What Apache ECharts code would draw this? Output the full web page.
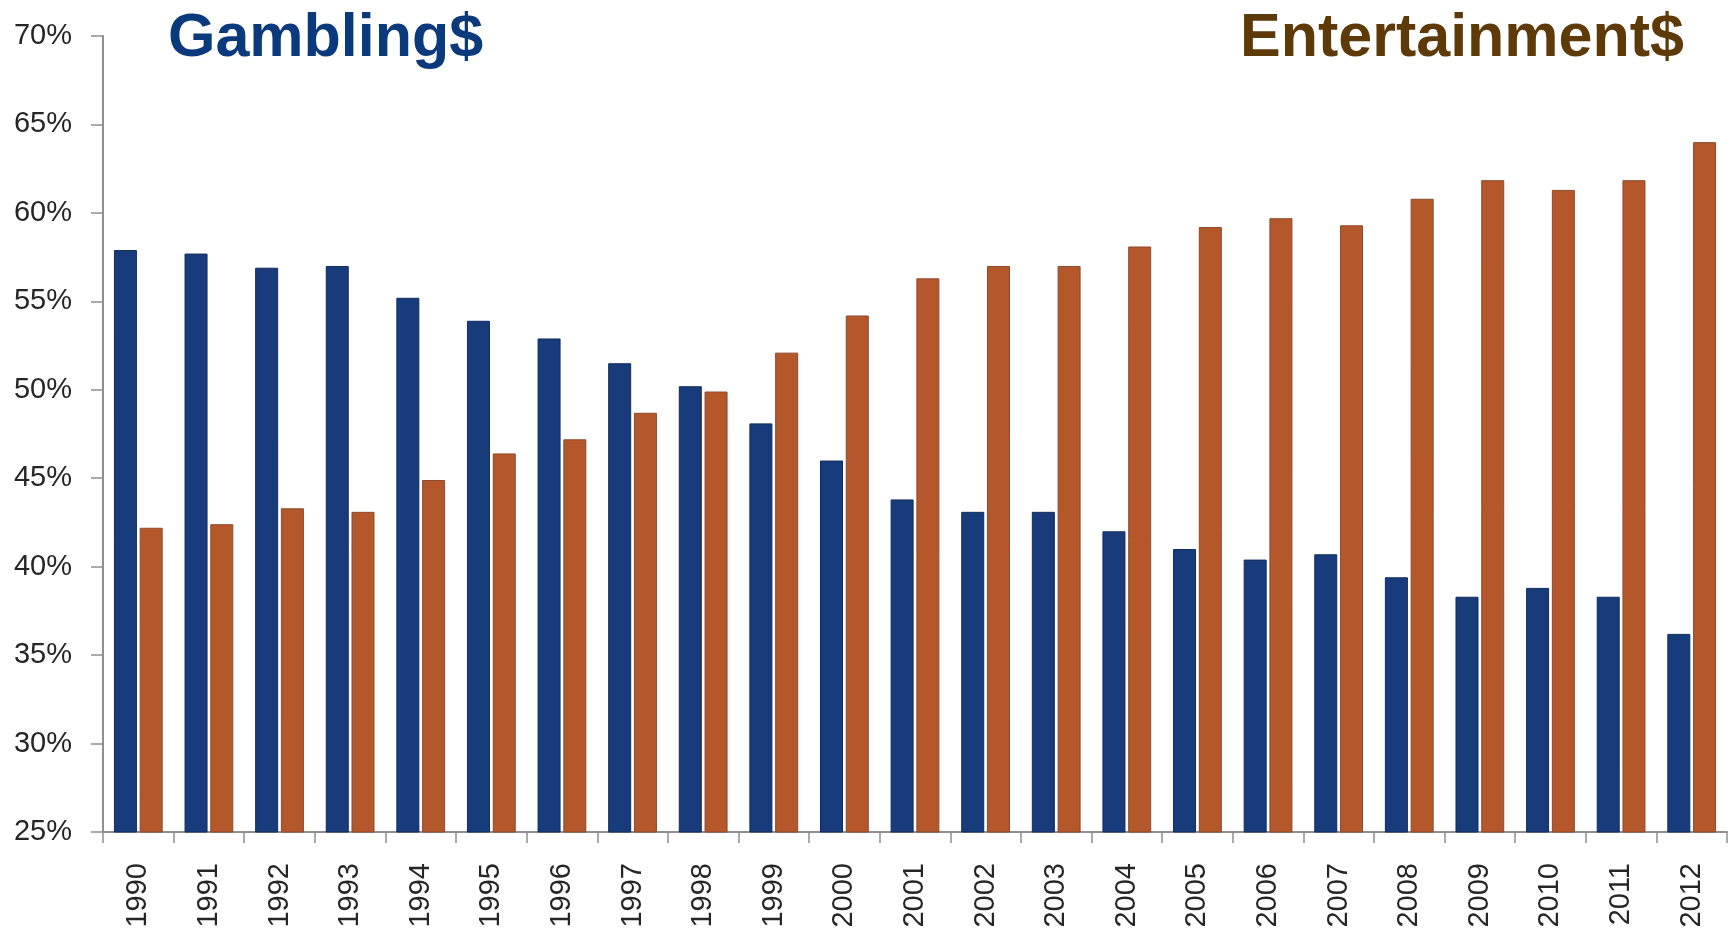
<!DOCTYPE html>
<html>
<head>
<meta charset="utf-8">
<script src="https://cdn.jsdelivr.net/npm/echarts@6/dist/echarts.min.js"></script>
<style>
  html, body { margin: 0; padding: 0; background: #ffffff; }
  #chart { width: 1732px; height: 930px; }
</style>
</head>
<body>
<div id="chart"></div>
<script>
// Share of revenue by year: gambling vs. entertainment (percent)
const years = ['1990','1991','1992','1993','1994','1995','1996','1997','1998','1999','2000','2001',
               '2002','2003','2004','2005','2006','2007','2008','2009','2010','2011','2012'];
const gamblingShare = [57.9, 57.7, 56.9, 57.0, 55.2, 53.9, 52.9, 51.5, 50.2, 48.1, 46.0, 43.8,
                       43.1, 43.1, 42.0, 41.0, 40.4, 40.7, 39.4, 38.3, 38.8, 38.3, 36.2];
const entertainmentShare = [42.2, 42.4, 43.3, 43.1, 44.9, 46.4, 47.2, 48.7, 49.9, 52.1, 54.2, 56.3,
                            57.0, 57.0, 58.1, 59.2, 59.7, 59.3, 60.8, 61.85, 61.3, 61.85, 64.0];
const seriesNames = ['Gambling$', 'Entertainment$'];
const yTicks = { min: 25, max: 70, step: 5 };

const axisGray = '#8f8f8f';
const labelFont = '"Liberation Sans", Arial, sans-serif';

const chart = echarts.init(document.getElementById('chart'), null, { renderer: 'canvas' });

chart.setOption({
  backgroundColor: '#ffffff',
  animation: false,
  grid: {
    left: 103, right: 5, top: 36, bottom: 98,
    containLabel: false,
    outerBoundsMode: 'none'
  },
  xAxis: {
    type: 'category',
    data: years,
    boundaryGap: true,
    axisLine: { lineStyle: { color: axisGray, width: 2 } },
    axisTick: { show: true, length: 11, lineStyle: { color: axisGray, width: 1.5 } },
    axisLabel: {
      rotate: 90,
      margin: 31,
      fontFamily: labelFont,
      fontSize: 29,
      color: '#262626'
    }
  },
  yAxis: {
    type: 'value',
    min: yTicks.min,
    max: yTicks.max,
    interval: yTicks.step,
    axisLine: { show: true, lineStyle: { color: axisGray, width: 2 } },
    axisTick: { show: true, length: 12, lineStyle: { color: axisGray, width: 1.5 } },
    splitLine: { show: false },
    axisLabel: {
      formatter: '{value}%',
      margin: 31,
      fontFamily: labelFont,
      fontSize: 29,
      color: '#262626'
    }
  },
  series: [
    {
      name: seriesNames[0],
      type: 'bar',
      data: gamblingShare,
      barWidth: 23,
      barGap: '12%',
      itemStyle: { color: '#183c7b', borderColor: '#112d5c', borderWidth: 1 }
    },
    {
      name: seriesNames[1],
      type: 'bar',
      data: entertainmentShare,
      barWidth: 23,
      itemStyle: { color: '#b4572b', borderColor: '#8e4a2c', borderWidth: 1 }
    }
  ],
  graphic: [
    {
      type: 'text',
      left: 168,
      top: 9,
      style: {
        text: seriesNames[0],
        font: 'bold 61px "Liberation Sans", Arial, sans-serif',
        fill: '#0b3a7c'
      }
    },
    {
      type: 'text',
      left: 1240,
      top: 9,
      style: {
        text: seriesNames[1],
        font: 'bold 61px "Liberation Sans", Arial, sans-serif',
        fill: '#5d3a08'
      }
    }
  ]
});
</script>
</body>
</html>
